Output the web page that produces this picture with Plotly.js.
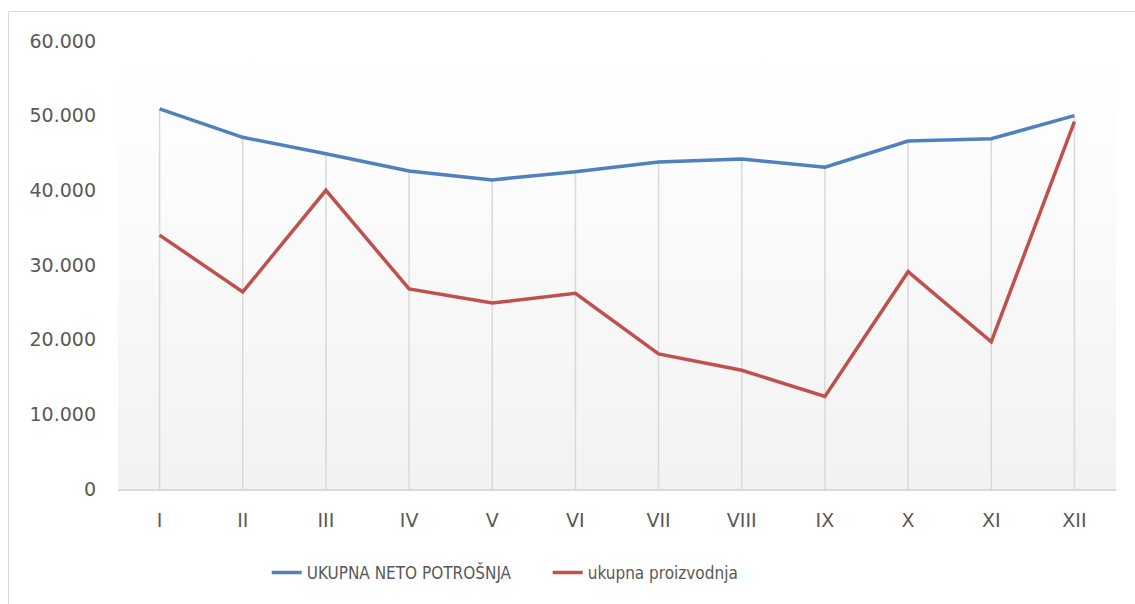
<!DOCTYPE html>
<html>
<head>
<meta charset="utf-8">
<script src="https://cdn.plot.ly/plotly-3.0.1.min.js"></script>
<style>
  html, body { margin: 0; padding: 0; background: #ffffff; }
  #wrap { position: relative; width: 1135px; height: 604px; overflow: hidden; }
  #frame { position: absolute; left: 8px; top: 11px; width: 1140px; height: 600px; border: 1px solid #d9d9d9; box-sizing: border-box; }
  #grad { position: absolute; left: 118px; top: 41px; width: 998px; height: 448px;
          background: linear-gradient(to bottom, #ffffff 0%, #fdfdfd 20%, #f2f2f2 100%); }
  #chart { position: absolute; left: 0; top: 0; width: 1135px; height: 604px; }
</style>
</head>
<body>
<div id="wrap">
  <div id="frame"></div>
  <div id="grad"></div>
  <div id="chart"></div>
</div>
<script>
const months = ['I','II','III','IV','V','VI','VII','VIII','IX','X','XI','XII'];
const potrosnja = [50900, 47100, 44900, 42600, 41400, 42500, 43800, 44200, 43100, 46600, 46900, 50000];
const proizvodnja = [34000, 26400, 40000, 26800, 24900, 26200, 18100, 15900, 12400, 29100, 19700, 49200];
const seriesNames = ['UKUPNA NETO POTROŠNJA', 'ukupna proizvodnja'];
const yTicks = [0, 10000, 20000, 30000, 40000, 50000, 60000];

// drop lines from the highest value down to the axis
const dropX = [], dropY = [];
months.forEach((m, i) => {
  const top = Math.max(potrosnja[i], proizvodnja[i]);
  dropX.push(m, m, null);
  dropY.push(top, 0, null);
});

const traces = [
  { x: dropX, y: dropY, type: 'scatter', mode: 'lines', showlegend: false, hoverinfo: 'skip',
    line: { color: '#d9d9d9', width: 1.5 } },
  { x: months, y: potrosnja, name: seriesNames[0], type: 'scatter', mode: 'lines',
    line: { color: '#4f81bd', width: 3.5 } },
  { x: months, y: proizvodnja, name: seriesNames[1], type: 'scatter', mode: 'lines',
    line: { color: '#c0504d', width: 3.5 } }
];

const layout = {
  width: 1135, height: 604,
  margin: { l: 118, r: 19, t: 41, b: 115 },
  paper_bgcolor: 'rgba(0,0,0,0)',
  plot_bgcolor: 'rgba(0,0,0,0)',
  separators: ',.',
  font: { family: 'DejaVu Sans', size: 19, color: '#595959' },
  xaxis: {
    type: 'category', range: [-0.5, 11.5], showgrid: false, zeroline: false,
    showline: true, linecolor: '#d9d9d9', linewidth: 1.5,
    ticks: '', ticklabelstandoff: 14, fixedrange: true
  },
  yaxis: {
    range: [0, 60000], tickvals: yTicks, tickformat: ',d', showgrid: false, zeroline: false,
    showline: false, ticks: '', ticklabelstandoff: 21, fixedrange: true
  },
  showlegend: true,
  legend: {
    orientation: 'h', x: 0.149, xanchor: 'left', y: -0.1875, yanchor: 'middle',
    font: { family: 'DejaVu Sans Condensed, Roboto, sans-serif', size: 17, color: '#595959' },
    bgcolor: 'rgba(0,0,0,0)', itemwidth: 30, entrywidth: 236
  }
};

Plotly.newPlot('chart', traces, layout, { displayModeBar: false, staticPlot: true });
</script>
</body>
</html>
